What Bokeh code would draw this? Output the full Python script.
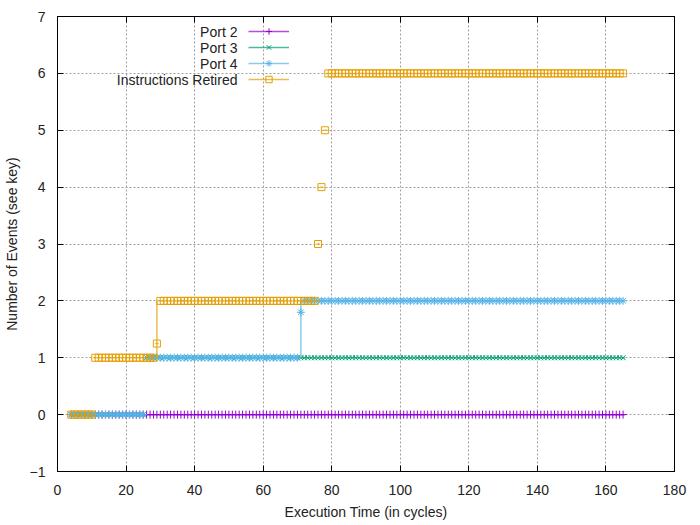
from bokeh.plotting import figure
from bokeh.models import (ColumnDataSource, Range1d, SingleIntervalTicker, LinearAxis,
                          Legend, LegendItem, Label)
from bokeh.embed import file_html
from bokeh.resources import INLINE

# ---------------- data (runs of consecutive cycles with the same event count) ----------------
series_names = ["Port 2", "Port 3", "Port 4", "Instructions Retired"]

port2_first = [4]
port2_last = [165]
port2_value = [0]

port3_first = [4, 26]
port3_last = [25, 165]
port3_value = [0, 1]

port4_first = [4, 26, 71, 72]
port4_last = [25, 70, 71, 165]
port4_value = [0, 1, 1.8, 2]
port4_range_cycle = [71]
port4_range_low = [1]
port4_range_high = [2]

ir_first = [4, 11, 29, 30, 76, 77, 78, 79]
ir_last = [10, 28, 29, 75, 76, 77, 78, 165]
ir_value = [0, 1, 1.25, 2, 3, 4, 5, 6]
ir_range_cycle = [29]
ir_range_low = [1]
ir_range_high = [2]

x_ticks_interval = 20
y_ticks_interval = 1


def expand(first, last, value):
    xs, ys = [], []
    for f, l, v in zip(first, last, value):
        for c in range(f, l + 1):
            xs.append(c)
            ys.append(v)
    return xs, ys


FONT = "Liberation Sans"
TXT = "#222222"

p = figure(frame_width=617, frame_height=455,
           x_range=Range1d(0, 180), y_range=Range1d(-1, 7),
           output_backend="svg", toolbar_location=None,
           min_border_left=49, min_border_top=16, min_border_right=24, min_border_bottom=45)
p.background_fill_color = "white"
p.border_fill_color = "white"
p.outline_line_color = "#000000"
p.outline_line_width = 1

xt = SingleIntervalTicker(interval=x_ticks_interval, num_minor_ticks=0)
yt = SingleIntervalTicker(interval=y_ticks_interval, num_minor_ticks=0)
p.xaxis.ticker = xt
p.yaxis.ticker = yt
p.xgrid.ticker = xt
p.ygrid.ticker = yt
for g in (p.xgrid[0], p.ygrid[0]):
    g.grid_line_color = "#a0a0a0"
    g.grid_line_dash = "2 2"
    g.grid_line_width = 1

p.xaxis.axis_label = "Execution Time (in cycles)"
p.yaxis.axis_label = "Number of Events (see key)"
for ax in (p.xaxis[0], p.yaxis[0]):
    ax.axis_line_color = "#000000"
    ax.major_tick_line_color = "#000000"
    ax.major_tick_in = 6
    ax.major_tick_out = 0
    ax.minor_tick_line_color = None
    ax.major_label_text_font = FONT
    ax.major_label_text_font_size = "14px"
    ax.major_label_text_color = TXT
    ax.axis_label_text_font = FONT
    ax.axis_label_text_font_size = "14px"
    ax.axis_label_text_font_style = "normal"
    ax.axis_label_text_color = TXT
p.xaxis.major_label_standoff = 13
p.xaxis.axis_label_standoff = 6
p.yaxis.major_label_standoff = 12
p.yaxis.axis_label_standoff = 7

# mirrored ticks on top and right (labels not drawn)
top = LinearAxis(ticker=xt, major_label_text_color=None, major_label_standoff=0,
                 major_label_text_font_size="10px",
                 major_tick_in=6, major_tick_out=0, minor_tick_line_color=None,
                 axis_line_color="#000000", major_tick_line_color="#000000")
right = LinearAxis(ticker=yt, major_label_text_color=None, major_label_standoff=0,
                   major_label_text_font_size="10px",
                   major_tick_in=6, major_tick_out=0, minor_tick_line_color=None,
                   axis_line_color="#000000", major_tick_line_color="#000000")
p.add_layout(top, "above")
p.add_layout(right, "right")

specs = [
    (port2_first, port2_last, port2_value, None, None, None, "#9400d3", "cross", 8),
    (port3_first, port3_last, port3_value, None, None, None, "#009e73", "x", 7),
    (port4_first, port4_last, port4_value, port4_range_cycle, port4_range_low, port4_range_high, "#56b4e9", "asterisk", 8),
    (ir_first, ir_last, ir_value, ir_range_cycle, ir_range_low, ir_range_high, "#e69f00", "square", 7),
]

items = []
for name, (f, l, v, rc, rlo, rhi, color, marker, size) in zip(series_names, specs):
    xs, ys = expand(f, l, v)
    src = ColumnDataSource(dict(x=xs, y=ys,
                                x0=[x - 0.5 for x in xs], x1=[x + 0.5 for x in xs]))
    seg = p.segment(x0="x0", y0="y", x1="x1", y1="y", source=src, line_color=color,
                    line_width=1.5, line_alpha=0.7)
    if rc is not None:
        rsrc = ColumnDataSource(dict(x=rc, lo=rlo, hi=rhi))
        p.segment(x0="x", y0="lo", x1="x", y1="hi", source=rsrc, line_color=color,
                  line_width=1.5, line_alpha=0.7)
    sc = p.scatter(x="x", y="y", source=src, marker=marker, size=size,
                   line_color=color, fill_color=None, line_width=1)
    items.append(LegendItem(label="", renderers=[seg, sc]))

legend = Legend(items=items, location=(191, 384), padding=0, spacing=0, margin=0,
                glyph_width=41, glyph_height=16, label_height=16, label_width=0,
                label_standoff=0, label_text_font_size="10px", label_text_color=None,
                background_fill_alpha=0, border_line_color=None)
p.add_layout(legend)

legend_text_y = [6.736, 6.45, 6.168, 5.875]
for name, ly in zip(series_names, legend_text_y):
    p.add_layout(Label(x=52.5, y=ly, text=name, text_align="right", text_baseline="middle",
                       text_font=FONT, text_font_size="14px", text_color=TXT))

open("out.html", "w").write(file_html(p, INLINE))
